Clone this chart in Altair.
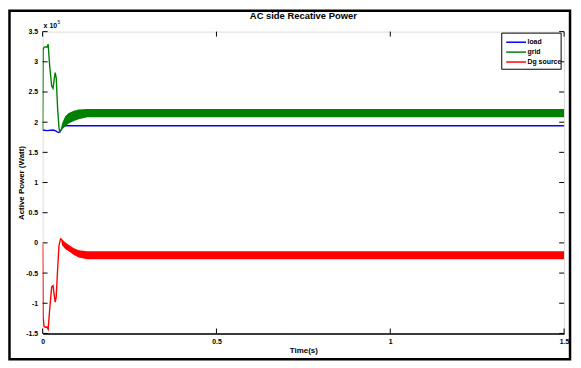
import altair as alt
import pandas as pd

# ---------------- data (values in units of 1e5) ----------------
series_names = ["load", "grid", "Dg source"]
series_colors = ["#0000FF", "#008000", "#FF0000"]

load_t = [0.0, 0.012, 0.03, 0.036, 0.042, 0.046, 0.05, 0.054, 0.058, 0.065, 1.5]
load_v = [1.87, 1.86, 1.87, 1.86, 1.84, 1.83, 1.84, 1.88, 1.92, 1.94, 1.94]

grid_t = [0.0, 0.0014, 0.004, 0.008, 0.012, 0.016, 0.02, 0.026, 0.03, 0.033, 0.036, 0.039, 0.043, 0.047, 0.05]
grid_v = [1.87, 3.2, 3.24, 3.25, 3.24, 3.29, 2.95, 2.6, 2.56, 2.7, 2.82, 2.74, 2.24, 1.91, 1.83]

dg_t = [0.0, 0.0014, 0.004, 0.008, 0.012, 0.016, 0.02, 0.026, 0.03, 0.033, 0.036, 0.039, 0.043, 0.047, 0.052]
dg_v = [-0.02, -1.23, -1.38, -1.4, -1.39, -1.43, -1.12, -0.73, -0.71, -0.85, -0.98, -0.9, -0.45, -0.05, 0.08]

# ripple envelopes of the steady-state oscillation
grid_band_t = [0.05, 0.056, 0.065, 0.075, 0.09, 0.104, 0.128, 1.5]
grid_band_lo = [1.83, 1.88, 1.93, 1.98, 2.02, 2.05, 2.08, 2.08]
grid_band_hi = [1.83, 1.98, 2.1, 2.15, 2.19, 2.21, 2.22, 2.22]

dg_band_t = [0.052, 0.056, 0.065, 0.075, 0.09, 0.104, 0.128, 1.5]
dg_band_lo = [0.08, -0.04, -0.1, -0.14, -0.2, -0.24, -0.27, -0.27]
dg_band_hi = [0.08, 0.06, 0.01, -0.03, -0.09, -0.12, -0.14, -0.14]

x_ticks = [0, 0.5, 1, 1.5]
y_ticks = [-1.5, -1, -0.5, 0, 0.5, 1, 1.5, 2, 2.5, 3, 3.5]

title_text = "AC side Recative Power"
x_title = "Time(s)"
y_title = "Active Power (Watt)"

# ---------------- layout ----------------
W, H = 527, 305
FONT = "Liberation Sans"
x_dom = [0, 1.5]
y_dom = [-1.5, 3.5]

lines_df = pd.concat([
    pd.DataFrame({"t": load_t, "v": load_v, "series": "load"}),
    pd.DataFrame({"t": grid_t, "v": grid_v, "series": "grid"}),
    pd.DataFrame({"t": dg_t, "v": dg_v, "series": "Dg source"}),
], ignore_index=True)

band_df = pd.concat([
    pd.DataFrame({"t": grid_band_t, "lo": grid_band_lo, "hi": grid_band_hi, "series": "grid"}),
    pd.DataFrame({"t": dg_band_t, "lo": dg_band_lo, "hi": dg_band_hi, "series": "Dg source"}),
], ignore_index=True)

xscale = alt.Scale(domain=x_dom, nice=False, zero=False)
yscale = alt.Scale(domain=y_dom, nice=False, zero=False)
cscale = alt.Scale(domain=series_names, range=series_colors)

x_axis = alt.Axis(values=x_ticks, labelExpr="datum.value + ''", ticks=False, grid=False,
                  domain=True, domainColor="black", domainWidth=1.5,
                  labelFont=FONT, labelFontSize=7, labelFontWeight="bold", labelColor="black",
                  labelPadding=4, labelFlush=False, labelOverlap=False,
                  title=x_title, titleFont=FONT, titleFontSize=8, titleFontWeight="bold",
                  titleColor="black", titleY=17, titleBaseline="middle")
y_axis = alt.Axis(values=y_ticks, labelExpr="datum.value + ''", ticks=False, grid=False,
                  domain=False, labelFont=FONT, labelFontSize=7, labelFontWeight="bold",
                  labelColor="black", labelPadding=5, labelFlush=False, labelOverlap=False,
                  title=y_title, titleFont=FONT, titleFontSize=8,
                  titleFontWeight="bold", titleColor="black", titleX=-17, titleY=H / 2)


def XQ(field):
    return alt.X(field, type="quantitative", scale=xscale, axis=x_axis)


def YQ(field):
    return alt.Y(field, type="quantitative", scale=yscale, axis=y_axis)


def line_layer(name):
    return alt.Chart(lines_df).transform_filter(alt.datum.series == name).mark_line(
        strokeWidth=1.4, clip=True).encode(
        x=XQ("t"), y=YQ("v"),
        color=alt.Color("series:N", scale=cscale, legend=None),
        order=alt.Order("t:Q"))


def band_layer(name):
    return alt.Chart(band_df).transform_filter(alt.datum.series == name).mark_area(
        clip=True, opacity=1).encode(
        x=XQ("t"), y=YQ("lo"), y2="hi:Q",
        color=alt.Color("series:N", scale=cscale, legend=None))


# inward ticks on all four sides
xt_df = pd.DataFrame({"xt": x_ticks})
yt_df = pd.DataFrame({"yt": y_ticks})
xt_bottom = alt.Chart(xt_df).mark_rule(color="black", strokeWidth=1).encode(
    x=XQ("xt"), y=alt.value(H), y2=alt.value(H - 5))
xt_top = alt.Chart(xt_df).mark_rule(color="black", strokeWidth=1).encode(
    x=XQ("xt"), y=alt.value(0), y2=alt.value(5))
yt_left = alt.Chart(yt_df).mark_rule(color="black", strokeWidth=1).encode(
    y=YQ("yt"), x=alt.value(0), x2=alt.value(5))
yt_right = alt.Chart(yt_df).mark_rule(color="black", strokeWidth=1).encode(
    y=YQ("yt"), x=alt.value(W), x2=alt.value(W - 5))

# title and exponent label
one_df = pd.DataFrame({"a": [0]})
title_mark = alt.Chart(one_df).mark_text(align="center", baseline="middle", fontSize=9.5,
                                          font=FONT, fontWeight="bold", color="black").encode(
    x=alt.value(W / 2), y=alt.value(-15.5), text=alt.value(title_text))
exp_base = alt.Chart(one_df).mark_text(align="left", baseline="alphabetic", fontSize=7,
                                        font=FONT, fontWeight="bold", color="black").encode(
    x=alt.value(1), y=alt.value(-4), text=alt.value("x 10"))
exp_pow = alt.Chart(one_df).mark_text(align="left", baseline="alphabetic", fontSize=5,
                                       font=FONT, color="black").encode(
    x=alt.value(15), y=alt.value(-8), text=alt.value("5"))

# legend (rows placed in the plot's data space)
legend_df = pd.DataFrame({"series": series_names, "row": [0, 1, 2]})
leg_y = "3.5 - (10.7 + 10 * datum.row) * 5 / 305"
leg_box = alt.Chart(one_df).mark_rect(fill="white", stroke="black", strokeWidth=1).encode(
    x=alt.value(464), x2=alt.value(524), y=alt.value(1.5), y2=alt.value(38))
leg_lines = alt.Chart(legend_df).transform_calculate(ly=leg_y).mark_rule(strokeWidth=1.5).encode(
    x=alt.value(468.5), x2=alt.value(488.5), y=YQ("ly"),
    color=alt.Color("series:N", scale=cscale, legend=None))
leg_text = alt.Chart(legend_df).transform_calculate(ly=leg_y).mark_text(
    align="left", baseline="middle", fontSize=7, font=FONT, fontWeight="bold", color="black").encode(
    x=alt.value(490), y=YQ("ly"), text="series:N")

# outer figure frame
frame = alt.Chart(one_df).mark_rect(fillOpacity=0, stroke="black", strokeWidth=2.5).encode(
    x=alt.value(-33.5), x2=alt.value(533), y=alt.value(-21), y2=alt.value(331))

chart = alt.layer(
    line_layer("load"),
    line_layer("grid"), band_layer("grid"),
    line_layer("Dg source"), band_layer("Dg source"),
    xt_bottom, xt_top, yt_left, yt_right,
    title_mark, exp_base, exp_pow,
    leg_box, leg_lines, leg_text,
    frame,
).properties(
    width=W, height=H,
    autosize=alt.AutoSizeParams(type="none"),
    padding={"left": 35, "top": 22, "right": 9, "bottom": 28},
).configure_view(stroke="black", strokeWidth=1).configure_axis(
    labelOverlap=False, labelFlush=False
).configure(background="white")

chart.save("out.html", embed_options={"renderer": "svg", "actions": False})
